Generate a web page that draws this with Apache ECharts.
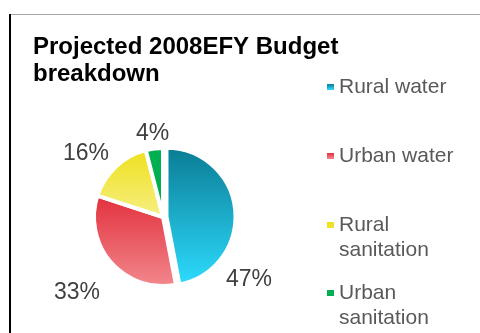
<!DOCTYPE html>
<html>
<head>
<meta charset="utf-8">
<script src="https://cdn.jsdelivr.net/npm/echarts@6/dist/echarts.min.js"></script>
<style>html,body{margin:0;padding:0;background:#fff}#c{width:480px;height:333px}</style>
</head>
<body>
<div id="c"></div>
<script>
const titleText = 'Projected 2008EFY Budget\nbreakdown';
const categories = ['Rural water', 'Urban water', 'Rural sanitation', 'Urban sanitation'];
const shares = [47, 33, 16, 4];
const exploded = [true, false, false, false];

// styling / layout (not data)
const gradTop = ['#0a7b93', '#e22f3b', '#efe01c', '#00b050'];
const gradBottom = ['#2edcff', '#f2898e', '#f6ef84', '#00b050'];
const FONT = '"Liberation Sans", Arial, sans-serif';
const CX = 163, CY = 217, R = 69, EXPLODE = 3.5;
const labelOffsets = [[86, 63], [-86, 76], [-77, -63], [-10.5, -83]];
const legendTops = [74.5, 143.5, 212.5, 280.5];
// square icon at the top of a tall (mostly empty) box so it lines up with the first text line
const ICON_ONE = 'rect';
const ICON_TWO = 'path://M0,0h7v6h-7z M0,31h7v0.001h-7z';

function grad(i) {
  return new echarts.graphic.LinearGradient(0, 0, 0, 1, [
    { offset: 0, color: gradTop[i] },
    { offset: 1, color: gradBottom[i] }
  ]);
}

const chart = echarts.init(document.getElementById('c'), null, { renderer: 'canvas' });

const legends = categories.map((name, i) => {
  const twoLine = name.indexOf(' sanitation') >= 0;
  return {
    orient: 'vertical',
    left: 327,
    top: legendTops[i],
    padding: 0,
    itemWidth: 7,
    itemHeight: twoLine ? 31 : 6,
    selectedMode: false,
    formatter: n => n.replace(' sanitation', '\nsanitation'),
    textStyle: { fontSize: 21, color: '#595959', fontFamily: FONT, lineHeight: 25 },
    data: [{ name: name, icon: twoLine ? ICON_TWO : ICON_ONE, itemStyle: { color: grad(i), borderWidth: 0 } }]
  };
});

// mid angle of the exploded slice (clockwise from 12 o'clock) to offset its centre
const total = shares.reduce((a, b) => a + b, 0);
let acc = 0;
const midAngles = shares.map(v => { const m = (acc + v / 2) / total * 2 * Math.PI; acc += v; return m; });
const ex = exploded.indexOf(true);
const exCenter = [CX + EXPLODE * Math.sin(midAngles[ex]), CY - EXPLODE * Math.cos(midAngles[ex])];

const baseSeries = {
  type: 'pie',
  radius: [0, R],
  startAngle: 90,
  clockwise: true,
  avoidLabelOverlap: false,
  emphasis: { scale: false },
  labelLine: { show: false }
};

chart.setOption({
  animation: false,
  title: {
    text: titleText,
    left: 33,
    top: 34,
    padding: 0,
    textStyle: { fontSize: 24, fontWeight: 'bold', color: '#000', fontFamily: FONT, lineHeight: 27 }
  },
  legend: legends,
  graphic: [
    { type: 'line', shape: { x1: 10, y1: 14.5, x2: 480, y2: 14.5 }, style: { stroke: '#a6a6a6', lineWidth: 1 }, silent: true },
    { type: 'line', shape: { x1: 10, y1: 14, x2: 10, y2: 333 }, style: { stroke: '#000', lineWidth: 2 }, silent: true }
  ],
  series: [
    Object.assign({}, baseSeries, {
      name: 'main',
      center: [CX, CY],
      label: {
        show: true,
        position: 'outside',
        formatter: p => Math.round(p.percent) + '%',
        fontSize: 23,
        color: '#404040',
        fontFamily: FONT
      },
      labelLayout: p => ({
        x: CX + labelOffsets[p.dataIndex][0],
        y: CY + labelOffsets[p.dataIndex][1],
        align: 'center',
        verticalAlign: 'middle'
      }),
      data: categories.map((name, i) => ({
        name: name,
        value: shares[i],
        itemStyle: exploded[i]
          ? { color: 'rgba(0,0,0,0)', borderWidth: 0 }
          : { color: grad(i), borderColor: '#fff', borderWidth: 4 }
      }))
    }),
    Object.assign({}, baseSeries, {
      name: 'exploded',
      center: exCenter,
      label: { show: false },
      data: categories.map((name, i) => ({
        name: name,
        value: shares[i],
        itemStyle: exploded[i]
          ? { color: grad(i), borderColor: '#fff', borderWidth: 4 }
          : { color: 'rgba(0,0,0,0)', borderWidth: 0 }
      }))
    })
  ]
});
</script>
</body>
</html>
